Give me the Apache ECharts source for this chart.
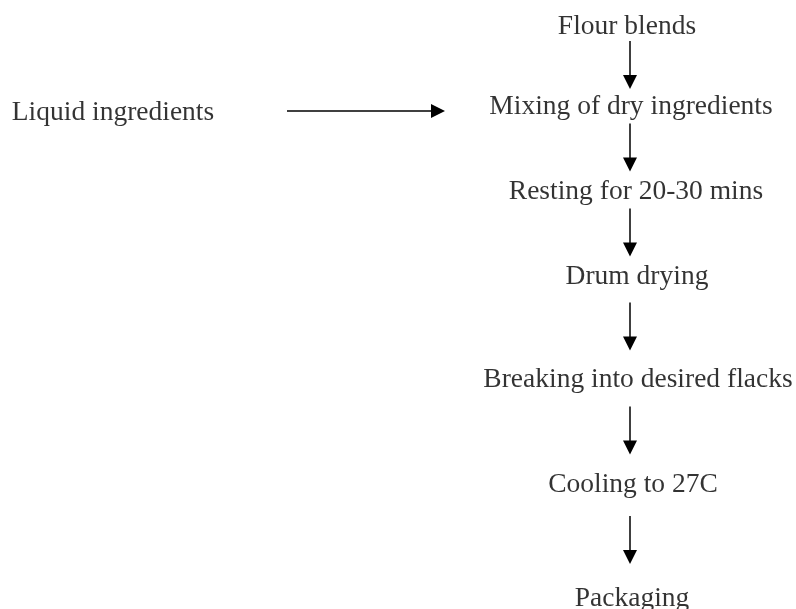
<!DOCTYPE html>
<html>
<head>
<meta charset="utf-8">
<script src="https://cdn.jsdelivr.net/npm/echarts@6/dist/echarts.min.js"></script>
<style>
  html, body { margin: 0; padding: 0; background: #fff; }
  #chart { width: 796px; height: 609px; }
</style>
</head>
<body>
<div id="chart"></div>
<script>
// process steps (main column, top to bottom)
var steps = [
  "Flour blends",
  "Mixing of dry ingredients",
  "Resting for 20-30 mins",
  "Drum drying",
  "Breaking into desired flacks",
  "Cooling to 27C",
  "Packaging"
];
// centre of each step label (px)
var stepX = [627, 631, 636, 637, 638, 633, 632];
var stepY = [25, 105, 190, 275, 378, 483, 597];
// side input feeding into step index 1
var sideInput = "Liquid ingredients";
var sideTarget = 1;

var myChart = echarts.init(document.getElementById("chart"));

var arrowX = 630;
var sideX = 113;
var sideY = stepY[sideTarget] + 6;
var headLen = 14;

var labelPoints = steps.map(function (name, i) {
  return { name: name, value: [stepX[i], stepY[i]] };
});
labelPoints.push({ name: sideInput, value: [sideX, sideY] });

// arrows between consecutive steps, centred in the gap
// (the triangle head is centred on the end point, so pull it back by half)
var arrows = [];
for (var i = 0; i < steps.length - 1; i++) {
  var mid = (stepY[i] + stepY[i + 1]) / 2;
  arrows.push({ coords: [[arrowX, mid - 24], [arrowX, mid + 24 - headLen / 2]] });
}
arrows.push({ coords: [[287, sideY], [445 - headLen / 2, sideY]] });

var option = {
  backgroundColor: "#fff",
  animation: false,
  grid: { left: 0, right: 0, top: 0, bottom: 0 },
  xAxis: { type: "value", min: 0, max: 796, show: false },
  yAxis: { type: "value", min: 0, max: 609, inverse: true, show: false },
  series: [
    {
      type: "scatter",
      symbolSize: 0,
      data: labelPoints,
      label: {
        show: true,
        position: "inside",
        offset: [0, 2],
        formatter: "{b}",
        color: "#000",
        fontFamily: "Liberation Serif",
        fontSize: 27.5
      }
    },
    {
      type: "lines",
      coordinateSystem: "cartesian2d",
      symbol: ["none", "triangle"],
      symbolSize: [12, headLen],
      lineStyle: { color: "#000", width: 1.5, opacity: 1 },
      data: arrows
    }
  ]
};
myChart.setOption(option);
</script>
</body>
</html>
